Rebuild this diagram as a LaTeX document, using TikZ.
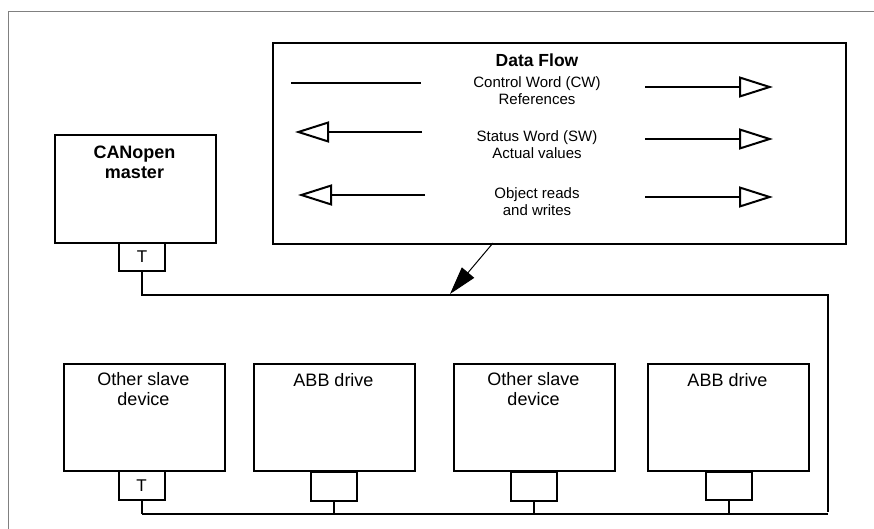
\documentclass[tikz,border=0pt]{standalone}
\usepackage{fontspec}
\setmainfont{Liberation Sans}
\usetikzlibrary{arrows.meta,positioning}

\begin{document}
\begin{tikzpicture}[x=1pt, y=-1pt,
    frame/.style={draw=gray, line width=1pt},
    unitbox/.style={draw, line width=2pt, inner sep=0pt, anchor=north west,
                    minimum width=161pt, minimum height=108pt},
    tbox/.style={draw, line width=2pt, inner sep=0pt, anchor=north,
                 minimum width=46pt, minimum height=28pt,
                 font=\fontsize{17}{19}\selectfont},
    biglabel/.style={align=center, inner sep=0pt, font=\fontsize{18}{20}\selectfont},
    smalllabel/.style={align=center, inner sep=0pt, font=\fontsize{15}{17}\selectfont},
    bus/.style={line width=2pt},
    flow/.style={line width=2pt,
                 -{Triangle[open, length=34pt, width=21pt]}},
    pointer/.style={line width=1pt, -{Triangle[length=28pt, width=16pt]}}]

  \useasboundingbox (0,0) rectangle (874,529);
  \draw[frame] (8,529) -- (8,12) -- (874,12);

  % data flow legend
  \node[unitbox, minimum width=573pt, minimum height=201pt] (df) at (272,42) {};
  \node[biglabel, font=\fontsize{17.5}{20}\bfseries] (dftitle) at (537,60) {Data Flow};
  \node[smalllabel] (cw) at (537,90.5) {Control Word (CW)\\References};
  \node[smalllabel] (sw) at (537,144.5) {Status Word (SW)\\Actual values};
  \node[smalllabel] (obj) at (537,201.5) {Object reads\\and writes};

  \draw[bus] (291,83) -- (421,83);
  \draw[flow] (422,132) -- (295,132);
  \draw[flow] (425,195) -- (298,195);
  \draw[flow] (645,87) -- (773,87);
  \draw[flow] (645,139) -- (773,139);
  \draw[flow] (645,197) -- (773,197);

  % master
  \node[unitbox] (master) at (54,134) {};
  \node[biglabel, font=\fontsize{18}{20}\bfseries] (masterlbl) at (134.5,162)
    {CANopen\\master};
  \node[tbox] (mt) at (142,242) {T};

  % slaves
  \node[unitbox, minimum height=107pt] (s1) at (63,363) {};
  \node[unitbox, minimum height=107pt] (s2) at (253,363) {};
  \node[unitbox, minimum height=107pt] (s3) at (453,363) {};
  \node[unitbox, minimum height=107pt] (s4) at (647,363) {};
  \node[biglabel] (s1lbl) at (143.5,389) {Other slave\\device};
  \node[biglabel] (s2lbl) at (333.5,380) {ABB drive};
  \node[biglabel] (s3lbl) at (533.5,389) {Other slave\\device};
  \node[biglabel] (s4lbl) at (727.5,380) {ABB drive};
  \node[tbox, minimum height=29pt] (c1) at (141.5,470) {T};
  \node[tbox, minimum height=29pt] (c2) at (333.5,471) {};
  \node[tbox, minimum height=29pt] (c3) at (534,471) {};
  \node[tbox, minimum height=28pt] (c4) at (729,471) {};

  % bus
  \coordinate (busR) at (828,295);
  \coordinate (busRB) at (828,514);
  \draw[bus] (mt.south) -- (mt.south |- busR) -- (busR) -- ([yshift=2pt]busRB);
  \draw[bus] (c1.south |- busRB) -- (busRB);
  \foreach \c in {c1,c2,c3,c4}
    \draw[bus] (\c.south) -- (\c.south |- busRB);

  \coordinate (ptrA) at (493,243);
  \coordinate (ptrB) at (450,294);
  \draw[pointer] (ptrA) -- (ptrB);
\end{tikzpicture}
\end{document}
